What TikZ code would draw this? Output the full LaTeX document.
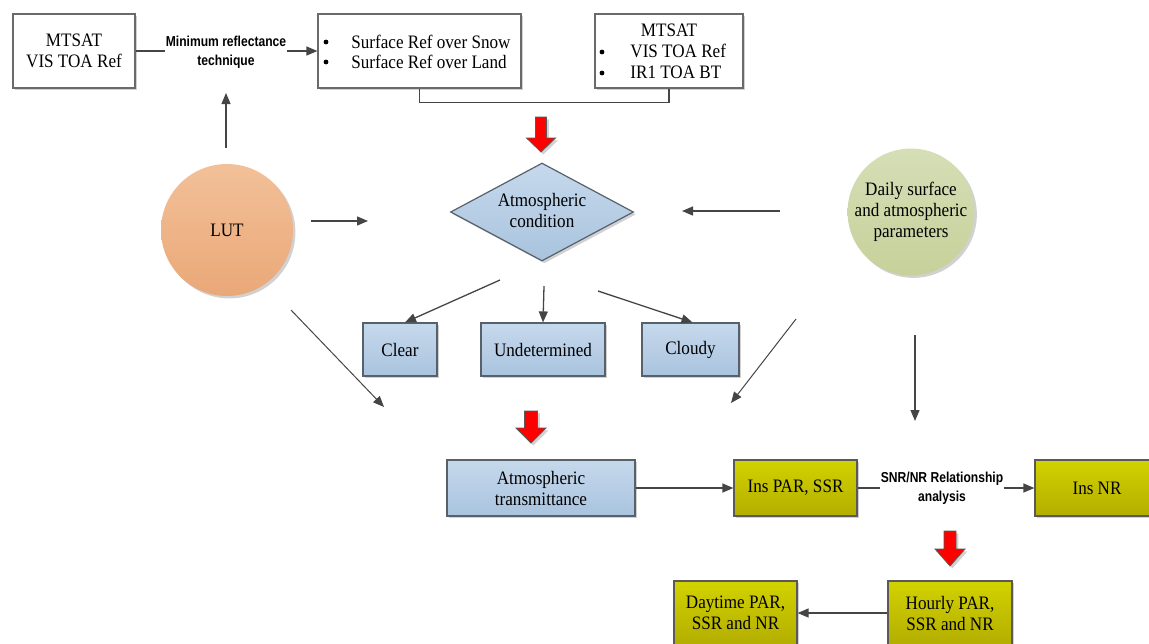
\documentclass[tikz,border=0pt]{standalone}
\usepackage{fontspec}
\setmainfont[FakeStretch=0.9]{Liberation Serif}
\newfontfamily\lblfont[FakeStretch=0.84]{Liberation Sans}
\usetikzlibrary{arrows.meta,shapes.geometric,shadows,calc}
\definecolor{edgegray}{HTML}{6A6A6A}
\definecolor{blueedge}{HTML}{56616C}
\definecolor{linegray}{HTML}{454545}
\definecolor{blueT}{HTML}{C6D9EC}
\definecolor{blueB}{HTML}{A9C3DE}
\definecolor{oliveT}{HTML}{D2D200}
\definecolor{oliveB}{HTML}{B3AE00}
\definecolor{orangeT}{HTML}{F2C098}
\definecolor{orangeB}{HTML}{EAA878}
\definecolor{greenT}{HTML}{D6DEB6}
\definecolor{greenB}{HTML}{C6D19A}
\definecolor{redA}{HTML}{FF0000}
\newcommand\redarr[6]{%
  \path[fill=redA, draw=black!65, line width=0.4pt, shadowed]
    ({#1-#5},#2) -- ({#1+#5},#2) -- ({#1+#5},#3) -- ({#1+#6},#3) -- (#1,#4)
    -- ({#1-#6},#3) -- ({#1-#5},#3) -- cycle;}
\tikzset{
  txt/.style={font=\fontsize{9.5}{10.5}\selectfont, align=center, inner sep=0pt},
  lbl/.style={font=\lblfont\bfseries\fontsize{7.2}{9.5}\selectfont, align=center, inner sep=0pt},
  bul/.style={circle, fill=black, inner sep=0pt, minimum size=2.4pt},
  shadowed/.style={drop shadow={shadow xshift=1.2pt, shadow yshift=-1.2pt, opacity=0.3, fill=black!60}},
  wbox/.style={txt, draw=edgegray, line width=0.6pt, fill=white, shadowed, minimum height=37pt},
  bbox/.style={txt, draw=blueedge, line width=0.6pt, top color=blueT, bottom color=blueB, shadowed},
  obox/.style={txt, draw=black!65, line width=0.6pt, top color=oliveT, bottom color=oliveB, shadowed},
  dia/.style={diamond, draw=blueedge, line width=0.6pt, top color=blueT, bottom color=blueB, shadowed,
    minimum width=91.5pt, minimum height=49pt, inner sep=0pt},
  ln/.style={draw=linegray, line width=0.65pt},
  arr/.style={ln, -{Triangle[length=5.5pt,width=4.5pt]}},
}
\begin{document}
\begin{tikzpicture}[x=0.5pt,y=-0.5pt]
\clip (0,0) rectangle (1149,643);

% top row
\node[wbox, minimum width=61pt] (m1) at (74,51) {MTSAT\\VIS TOA Ref};
\node[lbl] (mrt) at (226,52) {Minimum reflectance\\technique};
\node[wbox, minimum width=101.5pt] (surf) at (419.5,51) {};
\node[bul] (sb1) at (326,42) {};
\node[bul] (sb2) at (326,62) {};
\node[txt, anchor=west] (s1) at (351,42) {Surface Ref over Snow};
\node[txt, anchor=west] (s2) at (351,62) {Surface Ref over Land};
\node[wbox, minimum width=74pt] (m2) at (669,51) {};
\node[txt] (m2t) at (669,30) {MTSAT};
\node[bul] (mb1) at (602,52) {};
\node[bul] (mb2) at (602,73) {};
\node[txt, anchor=west] (m2a) at (630,51) {VIS TOA Ref};
\node[txt, anchor=west] (m2b) at (630,72) {IR1 TOA BT};

\draw[ln] (m1.east) -- (mrt.west |- m1.east);
\draw[arr] (mrt.east |- surf.west) -- (surf.west);
\draw[ln] (surf.south) -- ++(0,14) -| (m2.south);

\redarr{541}{117}{138}{152}{5.5}{14.5}

% middle
\node[dia] (cond) at (542,212) {};
\node[txt] (condt) at (542,210) {Atmospheric\\condition};
\node[txt, circle, top color=orangeT, bottom color=orangeB, shadowed, minimum size=66pt] (lut) at (227,230) {LUT};
\node[txt, circle, top color=greenT, bottom color=greenB, shadowed, minimum size=63pt] (daily) at (911,212) {Daily surface\\and atmospheric\\parameters};

\coordinate (lu1) at (226,148);
\coordinate (lu2) at (226,93);
\draw[arr] (lu1) -- (lu2);
\coordinate (ld1) at (311,221);
\coordinate (ld2) at (368,221);
\draw[arr] (ld1) -- (ld2);
\coordinate (dd1) at (780,211);
\coordinate (dd2) at (682,211);
\draw[arr] (dd1) -- (dd2);

\node[bbox, minimum width=37pt, minimum height=26.5pt] (clear) at (400,349.5) {Clear};
\node[bbox, minimum width=62pt, minimum height=26.5pt] (und) at (543,349.5) {Undetermined};
\node[bbox, minimum width=48.5pt, minimum height=26.5pt] (cloudy) at (690.5,349.5) {Cloudy};

\coordinate (c1) at (500,280);
\coordinate (c2) at (544,286);
\coordinate (c3) at (598,291);
\draw[arr] (c1) -- ([xshift=2.5pt]clear.north);
\draw[arr] (c2) -- (und.north);
\draw[arr] (c3) -- ([xshift=1pt]cloudy.north);

\coordinate (g1) at (291,310);
\coordinate (g2) at (384,407);
\draw[arr, line width=0.5pt] (g1) -- (g2);
\coordinate (h1) at (796,319);
\coordinate (h2) at (731,403);
\draw[arr, line width=0.5pt] (h1) -- (h2);
\coordinate (k1) at (915,335);
\coordinate (k2) at (915,421);
\draw[arr] (k1) -- (k2);

\redarr{531}{411}{428}{443}{6.5}{15}

% bottom
\node[bbox, minimum width=94pt, minimum height=28pt] (atm) at (541,488) {Atmospheric\\transmittance};
\node[obox, minimum width=61.5pt, minimum height=28pt] (ipar) at (795.5,488) {Ins PAR, SSR};
\node[lbl] (snr) at (942,488) {SNR/NR Relationship\\analysis};
\node[obox, minimum width=62pt, minimum height=28pt] (insnr) at (1097,488) {Ins NR};
\draw[arr] (atm.east) -- (ipar.west);
\draw[ln] (ipar.east) -- (snr.west |- ipar.east);
\draw[arr] (snr.east |- insnr.west) -- (insnr.west);

\redarr{950}{531}{549}{566}{6}{15}

\node[obox, minimum width=62pt, minimum height=32pt] (hourly) at (950,613) {Hourly PAR,\\SSR and NR};
\node[obox, minimum width=61.5pt, minimum height=32pt] (day) at (735.5,613) {Daytime PAR,\\SSR and NR};
\draw[arr] (hourly.west) -- (day.east);
\end{tikzpicture}
\end{document}
